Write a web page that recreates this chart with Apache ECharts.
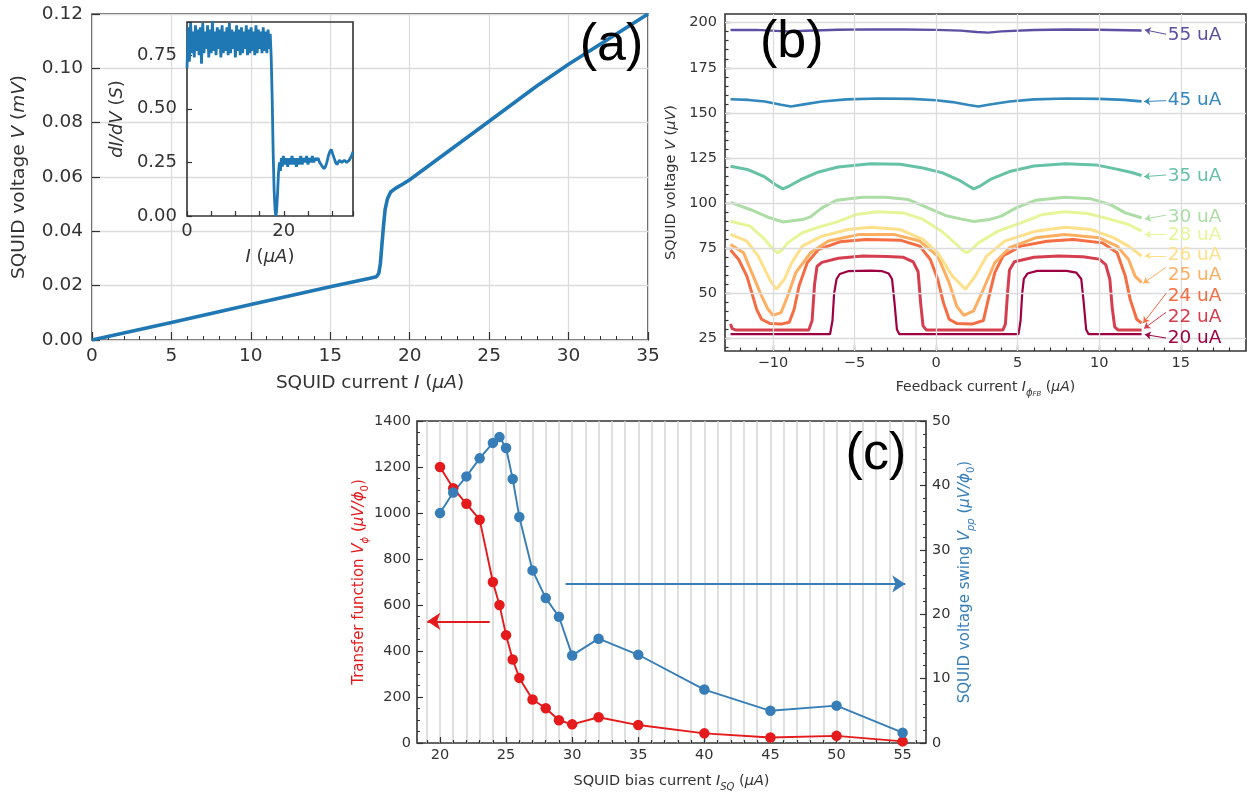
<!DOCTYPE html>
<html>
<head>
<meta charset="UTF-8">
<script src="https://cdn.jsdelivr.net/npm/echarts@6/dist/echarts.min.js"></script>
<style>
  html, body { margin: 0; padding: 0; background: #ffffff; }
  #chart { width: 1247px; height: 793px; }
</style>
</head>
<body>
<div id="chart"></div>
<script>
// ---- panel (a): I-V curve ----
var ivI = [0, 5, 10, 15, 17.5, 17.9, 18.05, 18.15, 18.25, 18.35, 18.45, 18.6, 18.8, 19.1, 19.6, 20, 25, 28, 30, 35];
var ivV = [0, 0.0064, 0.0131, 0.0196, 0.0227, 0.0233, 0.0245, 0.028, 0.035, 0.042, 0.048, 0.052, 0.0545, 0.0558, 0.0575, 0.059, 0.0805, 0.0935, 0.1015, 0.12];

// ---- inset: dI/dV ----
var dIdVx = [0,0.25,0.5,0.75,1,1.25,1.5,1.75,2,2.25,2.5,2.75,3,3.25,3.5,3.75,4,4.25,4.5,4.75,
  5,5.25,5.5,5.75,6,6.25,6.5,6.75,7,7.25,7.5,7.75,8,8.25,8.5,8.75,9,9.25,9.5,9.75,
  10,10.25,10.5,10.75,11,11.25,11.5,11.75,12,12.25,12.5,12.75,13,13.25,13.5,13.75,14,14.25,14.5,14.75,
  15,15.25,15.5,15.75,16,16.25,16.5,16.75,17,
  17.2,17.4,17.6,17.8,18.0,18.2,18.35,18.5,18.7,18.9,19.1,19.3,19.5,19.7,19.9,
  20.2,20.5,20.8,21.1,21.4,21.7,22.0,22.3,22.6,22.9,23.2,23.5,23.8,24.1,24.4,24.7,
  25.0,25.3,25.6,25.9,26.2,26.5,26.8,27.1,27.4,27.7,28.0,28.3,28.6,28.9,29.2,29.5,29.8,
  30.1,30.4,30.7,31.0,31.5,32.0,32.5,33.0,33.5,34.0,34.3];
var dIdVy = [0.69,0.88,0.72,0.90,0.76,0.86,0.74,0.89,0.77,0.87,
  0.75,0.88,0.71,0.90,0.76,0.86,0.78,0.89,0.74,0.87,
  0.76,0.91,0.77,0.86,0.75,0.88,0.78,0.87,0.74,0.89,
  0.76,0.86,0.77,0.88,0.75,0.90,0.76,0.87,0.78,0.86,
  0.74,0.89,0.77,0.87,0.75,0.88,0.76,0.86,0.78,0.89,
  0.75,0.87,0.76,0.88,0.77,0.86,0.75,0.89,0.76,0.87,
  0.78,0.86,0.76,0.88,0.77,0.86,0.76,0.87,0.78,
  0.85,0.74,0.55,0.30,0.12,0.03,0.0,0.02,0.10,0.20,0.25,0.21,0.27,0.23,0.28,
  0.24,0.27,0.23,0.27,0.24,0.28,0.24,0.27,0.23,0.27,0.24,0.28,0.24,0.27,0.25,0.28,
  0.24,0.27,0.25,0.28,0.25,0.27,0.26,0.27,0.25,0.24,0.23,0.22,0.23,0.25,0.28,0.30,0.31,
  0.29,0.27,0.25,0.24,0.26,0.25,0.26,0.25,0.26,0.28,0.30];

// ---- panel (b): V-Phi curves, [feedback current, voltage] ----
var b55 = [[-12.6,195.9],[-11,196.0],[-9.5,195.3],[-9,195.1],[-8,195.5],[-6,196.1],[-4,196.3],[-2,196.2],[0,196.0],[1.5,195.6],[2.5,194.8],[3.2,194.5],[4,195.2],[6,195.9],[8,196.2],[10,196.1],[12.6,195.7]];
var b45 = [[-12.6,157.6],[-11.5,157.2],[-10.5,156.3],[-9.5,154.5],[-8.9,153.6],[-8.2,154.6],[-7,156.3],[-5.5,157.5],[-3.5,158.0],[-1.5,157.8],[0,157.0],[1,156.0],[2,154.4],[2.6,153.6],[3.2,154.5],[4.5,156.3],[6,157.5],[8,158.0],[10,157.8],[11.5,157.2],[12.6,156.4]];
var b35 = [[-12.6,120.4],[-11.5,118.5],[-10.5,114.5],[-9.8,110],[-9.4,107.9],[-9.0,109.5],[-8.3,113],[-7.2,117.3],[-6,120],[-4,121.9],[-2.2,121.6],[-0.8,119.5],[0.4,116.8],[1.4,112.8],[2.0,109.5],[2.3,107.9],[2.7,109.5],[3.4,113.5],[4.5,117.5],[6,120.6],[7.9,121.9],[9.8,121.2],[11,119],[12,117],[12.6,115.3]];
var b30 = [[-12.6,100.4],[-11.4,96.5],[-10.2,91.9],[-9.4,89.6],[-8.2,90.9],[-7.7,92.4],[-7.0,97.4],[-6.1,101.6],[-4.5,103.3],[-3.1,103.3],[-1.7,102],[-0.35,96.8],[0.57,93.2],[1.5,91.3],[2.3,89.8],[3.3,91],[4.0,92.8],[4.9,97.4],[6.1,101.6],[7.9,103.3],[9.5,102.4],[10.7,99.2],[11.6,94.6],[12.6,91.9]];
var b28 = [[-12.6,90.0],[-11.4,87.3],[-10.5,79.9],[-10.0,74.5],[-9.7,72.5],[-9.4,74.5],[-9.1,78],[-8.2,83.6],[-7.2,86.7],[-6.1,89.5],[-4.9,93.7],[-3.6,95.2],[-2.0,94.6],[-0.8,91],[0.34,84.5],[1.26,77.1],[1.6,74],[1.9,72.5],[2.2,74.5],[2.6,78],[3.8,84.5],[5.2,89.1],[6.5,93.7],[7.9,95.2],[9.3,94.3],[10.7,91],[11.8,88.2],[12.6,84.5]];
var b26 = [[-12.6,82.7],[-11.6,79],[-10.9,70.7],[-10.2,57.8],[-9.8,52.3],[-9.3,57.8],[-8.85,67],[-8.2,76.2],[-7.0,81.7],[-5.4,85.4],[-4.0,86.7],[-2.2,85.4],[-0.8,79.9],[0.1,72.5],[1.0,59.6],[1.8,52.3],[2.4,59.6],[3.1,70.7],[4.2,79],[6.1,84.5],[7.9,86.7],[9.5,85.4],[10.9,80.8],[11.8,76.2],[12.6,70.7]];
var b25 = [[-12.6,77.1],[-11.8,72.5],[-11.3,61.5],[-10.7,48.6],[-10.3,41.2],[-10.0,37.9],[-9.5,39.4],[-9.1,48.6],[-8.6,61.5],[-7.7,72.5],[-6.6,79],[-4.7,82.7],[-2.6,82.7],[-1.0,79],[0.1,70.7],[0.8,56],[1.26,43],[1.7,37.9],[2.3,40.3],[2.9,52.3],[3.6,67],[4.5,75.3],[6.1,80.8],[7.9,82.7],[10.0,80.8],[11.1,76.2],[11.8,68.8],[12.2,59.6],[12.6,56]];
var b24 = [[-12.6,74],[-12.1,68.8],[-11.6,59.6],[-11.3,50.4],[-11.0,41.2],[-10.7,35.7],[-10.2,33.4],[-9.5,33.0],[-9.0,34.0],[-8.7,41.2],[-8.4,54.1],[-7.9,67],[-7.2,74.4],[-5.9,78.6],[-4.3,79.9],[-2.2,79.5],[-1.0,76.2],[-0.35,68.8],[0.1,57.8],[0.45,44.9],[0.8,35.7],[1.26,33.4],[2.2,33.0],[2.9,35.0],[3.2,46.7],[3.6,61.5],[4.1,70.7],[5.2,76.2],[6.8,78.9],[8.4,79.9],[10.2,78],[11.1,72.5],[11.6,59.6],[11.9,46.7],[12.3,35.7],[12.6,33.5]];
var b22 = [[-12.6,33],[-12.5,30.5],[-12.3,29.8],[-7.8,29.8],[-7.6,35],[-7.45,55],[-7.3,65],[-7.0,67.2],[-6.0,69.5],[-4.5,70.7],[-3.0,70.5],[-2.0,70],[-1.4,67.5],[-1.1,62],[-0.95,45],[-0.8,32],[-0.6,29.8],[4.1,29.8],[4.25,33],[4.38,50],[4.5,63],[4.8,67.5],[6,70],[7.5,70.7],[9,70.3],[10.0,69],[10.4,66],[10.65,58],[10.8,42],[10.95,31.5],[11.15,29.8],[12.6,29.8]];
var b20 = [[-12.6,27.4],[-6.5,27.4],[-6.35,35],[-6.25,50],[-6.1,58],[-5.9,60.8],[-5.4,62.3],[-4.0,62.6],[-3.3,62.3],[-2.9,61],[-2.7,58],[-2.55,45],[-2.4,30],[-2.25,27.4],[5.05,27.4],[5.18,35],[5.28,50],[5.38,58],[5.6,61],[6.2,62.5],[8,62.5],[8.6,61.5],[8.9,58],[9.05,45],[9.2,30],[9.35,27.4],[12.6,27.4]];
var bNames = ['20 uA', '22 uA', '24 uA', '25 uA', '26 uA', '28 uA', '30 uA', '35 uA', '45 uA', '55 uA'];
var bCurves = [b20, b22, b24, b25, b26, b28, b30, b35, b45, b55];
var bXTicks = [-10, -5, 0, 5, 10, 15];
var bXMinor = [-12,-11,-10,-9,-8,-7,-6,-5,-4,-3,-2,-1,0,1,2,3,4,5,6,7,8,9,10,11,12,13,14,15,16,17,18];
var bYTicks = [25, 50, 75, 100, 125, 150, 175, 200];
var bYMinor = [20,25,30,35,40,45,50,55,60,65,70,75,80,85,90,95,100,105,110,115,120,125,130,135,140,145,150,155,160,165,170,175,180,185,190,195,200];

// ---- panel (c): transfer function and voltage swing vs bias ----
var isq = [20, 21, 22, 23, 24, 24.5, 25, 25.5, 26, 27, 28, 29, 30, 32, 35, 40, 45, 50, 55];
var vPhi = [1200, 1108, 1040, 971, 700, 600, 469, 363, 283, 189, 151, 99, 81, 112, 78, 42, 24, 31, 7];
var vpp = [35.7, 38.9, 41.4, 44.2, 46.6, 47.5, 45.8, 41.0, 35.1, 26.8, 22.5, 19.6, 13.6, 16.2, 13.7, 8.3, 5.0, 5.8, 1.6];
var cXTicks = [20, 25, 30, 35, 40, 45, 50, 55];
var cXMinor = [19,20,21,22,23,24,25,26,27,28,29,30,31,32,33,34,35,36,37,38,39,40,41,42,43,44,45,46,47,48,49,50,51,52,53,54,55,56];

var FONT = 'DejaVu Sans';
var INK = '#333333';
var GRIDC = '#dcdcdc';
var bColors = ['#9e0142', '#d53e4f', '#f46d43', '#fdae61', '#fee08b', '#e6f598', '#abdda4', '#66c2a5', '#3288bd', '#5e4fa2'];
var bWidths = [2.2, 3, 3, 3, 3, 3, 3, 3, 2.6, 2.4];
var bLabelY = [25.0, 37.0, 48.6, 60.1, 71.2, 82.3, 92.5, 115.2, 157.2, 192.8];
var bArrows = [
  [[14.1, 25.3], [12.8, 27.2]],
  [[14.1, 39.5], [12.75, 30.6]],
  [[14.1, 50.0], [12.7, 33.6]],
  [[14.1, 64.5], [12.7, 55.6]],
  [[14.1, 70.8], [12.8, 70.8]],
  [[14.1, 82.6], [12.8, 82.6]],
  [[14.1, 93.4], [12.8, 91.2]],
  [[14.1, 115.6], [12.75, 114.7]],
  [[14.1, 156.8], [12.75, 156.3]],
  [[14.1, 193.6], [12.8, 196.0]]
];

function merge(a, b) {
  for (var k in b) {
    if (b[k] && typeof b[k] === 'object' && !Array.isArray(b[k]) && a[k] && typeof a[k] === 'object') merge(a[k], b[k]);
    else a[k] = b[k];
  }
  return a;
}
function axis(o) {
  return merge({
    type: 'value',
    axisLine: {show: false, onZero: false},
    axisTick: {show: true, inside: true, length: 6, lineStyle: {color: INK, width: 1.2}},
    minorTick: {show: false, length: 3, lineStyle: {color: INK, width: 1}},
    axisLabel: {color: INK, fontFamily: FONT, fontSize: 14.5},
    splitLine: {show: false, lineStyle: {color: GRIDC, width: 1.3}},
    nameLocation: 'middle',
    nameTextStyle: {
      color: INK, fontFamily: FONT, fontSize: 14.5,
      rich: {
        i: {fontStyle: 'italic'},
        s: {fontStyle: 'italic', fontSize: 10, verticalAlign: 'bottom', lineHeight: 22},
        u: {fontSize: 10, verticalAlign: 'bottom', lineHeight: 22},
        ss: {fontStyle: 'italic', fontSize: 7, verticalAlign: 'bottom', lineHeight: 22}
      }
    }
  }, o);
}
function minus(v) { return v < 0 ? '\u2212' + (-v) : String(v); }
function pairs(xs, ys) { return xs.map(function (x, i) { return [x, ys[i]]; }); }

var gridBox = {show: true, borderColor: INK, borderWidth: 1.6, backgroundColor: 'transparent'};

var xAxes = [
  axis({gridIndex: 0, min: 0, max: 35, interval: 5,
    axisTick: {length: 8}, minorTick: {show: true, splitNumber: 5, length: 4},
    axisLabel: {fontSize: 18.5, margin: 7},
    splitLine: {show: true},
    name: 'SQUID current {i|I} ({i|\u00b5A})', nameGap: 34, nameTextStyle: {fontSize: 18.5}}),
  axis({gridIndex: 1, min: 0, max: 34.3, interval: 5, z: 4,
    axisTick: {length: 5},
    axisLabel: {fontSize: 18, margin: 6, formatter: function (v) { return (v === 0 || v === 20) ? String(v) : ''; }},
    name: '{i|I} ({i|\u00b5A})', nameGap: 32, nameTextStyle: {fontSize: 18}}),
  axis({gridIndex: 2, min: -12.94, max: 19,
    axisTick: {customValues: bXTicks, length: 6},
    axisLabel: {customValues: bXTicks, margin: 5, formatter: minus},
    name: 'Feedback current {i|I}{s|\u03d5}{ss|FB} ({i|\u00b5A})', nameGap: 25, nameTextStyle: {fontSize: 14}}),
  axis({gridIndex: 2, min: -12.94, max: 19, position: 'bottom',
    axisTick: {customValues: bXMinor, length: 3.5}, axisLabel: {show: false}}),
  axis({gridIndex: 3, min: 18.26, max: 56.77,
    axisTick: {customValues: cXTicks, length: 6},
    axisLabel: {customValues: cXTicks, margin: 5},
    name: 'SQUID bias current {i|I}{s|SQ} ({i|\u00b5A})', nameGap: 27, nameTextStyle: {fontSize: 14.5}}),
  axis({gridIndex: 3, min: 18.26, max: 56.77, position: 'bottom',
    axisTick: {customValues: cXMinor, length: 3}, axisLabel: {show: false},
    splitLine: {show: true, lineStyle: {color: '#d4d4d4', width: 1.5}}})
];

var yAxes = [
  axis({gridIndex: 0, min: 0, max: 0.12, interval: 0.02,
    axisTick: {length: 8},
    axisLabel: {fontSize: 18.5, margin: 9, formatter: function (v) { return v.toFixed(2); }},
    splitLine: {show: true},
    name: 'SQUID voltage {i|V} ({i|mV})', nameGap: 63, nameRotate: 90, nameTextStyle: {fontSize: 18.5}}),
  axis({gridIndex: 1, min: 0, max: 0.905, interval: 0.25, z: 4,
    axisTick: {length: 5},
    axisLabel: {fontSize: 18, margin: 10, formatter: function (v) {
      return Math.abs(v / 0.25 - Math.round(v / 0.25)) < 1e-6 ? v.toFixed(2) : ''; }},
    name: '{i|dI/dV} ({i|S})', nameGap: 61, nameRotate: 90, nameTextStyle: {fontSize: 18}}),
  axis({gridIndex: 2, min: 18.1, max: 204.8, position: 'left',
    axisTick: {customValues: bYTicks, length: 6},
    axisLabel: {customValues: bYTicks, margin: 8},
    name: 'SQUID voltage {i|V} ({i|\u00b5V})', nameGap: 46, nameRotate: 90, nameTextStyle: {fontSize: 14.5}}),
  axis({gridIndex: 2, min: 18.1, max: 204.8, position: 'left',
    axisTick: {customValues: bYMinor, length: 3.5}, axisLabel: {show: false}}),
  axis({gridIndex: 3, min: 0, max: 1400, interval: 200, position: 'left',
    minorTick: {show: true, splitNumber: 4, length: 3},
    axisLabel: {margin: 6, formatter: function (v) { return String(v); }},
    name: 'Transfer function {i|V}{s|\u03d5} ({i|\u00b5V/\u03d5}{u|0})', nameGap: 45, nameRotate: 90,
    nameTextStyle: {fontSize: 15, color: '#e41a1c'}}),
  axis({gridIndex: 3, min: 0, max: 50, interval: 10, position: 'right',
    minorTick: {show: true, splitNumber: 5, length: 3},
    axisLabel: {margin: 6},
    name: 'SQUID voltage swing {i|V}{s|pp} ({i|\u00b5V/\u03d5}{u|0})', nameGap: 28, nameRotate: 90,
    nameTextStyle: {fontSize: 15, color: '#377eb8'}})
];

function panelTag(text, coord) {
  return {coord: coord, symbol: 'circle', symbolSize: 0,
    label: {show: true, position: 'inside', formatter: text, color: '#000', fontSize: 52, fontFamily: 'Liberation Sans'}};
}

// grid lines of panel (b), drawn below the curves
var bGridLines = bXTicks.map(function (v) { return {xAxis: v}; })
  .concat(bYTicks.map(function (v) { return {yAxis: v}; }));

var series = [
  {type: 'line', xAxisIndex: 0, yAxisIndex: 0, data: pairs(ivI, ivV), showSymbol: false, z: 2,
    lineStyle: {color: '#1f77b4', width: 3.6},
    markPoint: {silent: true, data: [panelTag('(a)', [32.7, 0.1083])]}},
  {type: 'line', xAxisIndex: 1, yAxisIndex: 1, data: pairs(dIdVx, dIdVy), showSymbol: false, z: 5,
    lineStyle: {color: '#1f77b4', width: 2.8}},
  {type: 'line', xAxisIndex: 2, yAxisIndex: 2, data: [], z: 1, silent: true,
    markLine: {silent: true, symbol: ['none', 'none'], label: {show: false},
      lineStyle: {color: GRIDC, width: 1.3, type: 'solid'}, data: bGridLines}}
];

bCurves.forEach(function (c, k) {
  var col = bColors[k];
  var mp = [{coord: [14.2, bLabelY[k]], symbol: 'circle', symbolSize: 0,
    label: {show: true, position: 'right', distance: 0, formatter: bNames[k], color: col, fontSize: 18.5, fontFamily: FONT}}];
  if (k === bCurves.length - 1) mp.push(panelTag('(b)', [-8.85, 189]));
  series.push({
    type: 'line', xAxisIndex: 2, yAxisIndex: 2, data: c, showSymbol: false, z: 2,
    lineStyle: {color: col, width: bWidths[k]},
    markLine: {silent: true, symbol: ['none', 'arrow'], symbolSize: 6,
      lineStyle: {color: col, width: 1, type: 'solid'}, label: {show: false},
      data: [[{coord: bArrows[k][0]}, {coord: bArrows[k][1]}]]},
    markPoint: {silent: true, data: mp}
  });
});

series.push({
  type: 'line', xAxisIndex: 4, yAxisIndex: 4, data: pairs(isq, vPhi), z: 3,
  symbol: 'circle', symbolSize: 10.5, itemStyle: {color: '#e41a1c'},
  lineStyle: {color: '#e41a1c', width: 1.9},
  markLine: {silent: true, symbol: ['none', 'arrow'], symbolSize: 13,
    lineStyle: {color: '#e41a1c', width: 2, type: 'solid'}, label: {show: false},
    data: [[{coord: [23.76, 529]}, {coord: [19.04, 529]}]]},
  markPoint: {silent: true, data: [panelTag('(c)', [52.98, 1254])]}
});
series.push({
  type: 'line', xAxisIndex: 4, yAxisIndex: 5, data: pairs(isq, vpp), z: 3,
  symbol: 'circle', symbolSize: 10.5, itemStyle: {color: '#377eb8'},
  lineStyle: {color: '#377eb8', width: 1.9},
  markLine: {silent: true, symbol: ['none', 'arrow'], symbolSize: 13,
    lineStyle: {color: '#377eb8', width: 2, type: 'solid'}, label: {show: false},
    data: [[{coord: [29.5, 24.7]}, {coord: [55.2, 24.7]}]]}
});

var chart = echarts.init(document.getElementById('chart'));
chart.setOption({
  animation: false,
  backgroundColor: '#ffffff',
  grid: [
    merge({left: 92, top: 14, width: 556, height: 326}, gridBox),
    merge({left: 187, top: 22, width: 166, height: 194, z: 3}, merge({}, gridBox, {backgroundColor: '#ffffff'})),
    merge({left: 725, top: 14, width: 521, height: 337}, gridBox),
    merge({left: 417, top: 421, width: 509, height: 330}, gridBox)
  ],
  xAxis: xAxes,
  yAxis: yAxes,
  series: series
});
</script>
</body>
</html>
